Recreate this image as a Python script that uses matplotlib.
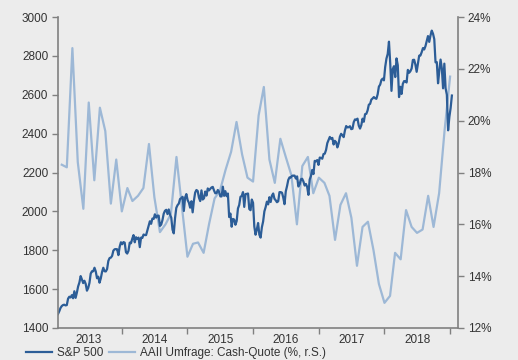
import matplotlib
matplotlib.use('Agg')
import matplotlib.pyplot as plt
import matplotlib.dates as mdates
import matplotlib.ticker as mticker
import pandas as pd

plt.rcParams['font.family'] = ['Liberation Sans', 'DejaVu Sans']

# S&P 500, Wochenschlusskurse ab 11.01.2013
spx = [
    # 2013
    1472, 1486, 1503, 1513, 1518, 1520, 1516, 1518, 1551, 1561, 1557, 1569, 1553,
    1589, 1555, 1582, 1614, 1634, 1667, 1650, 1631, 1643, 1627, 1592, 1606, 1632,
    1680, 1692, 1692, 1710, 1691, 1656, 1664, 1633, 1655, 1688, 1710, 1692, 1691,
    1703, 1745, 1760, 1762, 1771, 1798, 1805, 1806, 1805, 1775, 1818, 1841,
    # 2014
    1831, 1842, 1839, 1790, 1783, 1797, 1839, 1836, 1859, 1878, 1841, 1867, 1858,
    1865, 1816, 1865, 1863, 1881, 1878, 1878, 1901, 1924, 1949, 1936, 1963, 1961,
    1985, 1968, 1978, 1978, 1925, 1932, 1955, 1988, 2003, 2008, 1986, 2010, 1983,
    1968, 1906, 1887, 1965, 2018, 2032, 2040, 2064, 2068, 2075, 2002, 2071, 2089,
    # 2015
    2058, 2045, 2019, 2052, 1995, 2055, 2097, 2110, 2105, 2071, 2053, 2108, 2061,
    2067, 2102, 2081, 2118, 2108, 2116, 2123, 2126, 2107, 2093, 2094, 2110, 2101,
    2077, 2077, 2127, 2080, 2104, 2078, 2092, 1971, 1989, 1921, 1961, 1958, 1931,
    1951, 2015, 2033, 2075, 2079, 2099, 2023, 2089, 2090, 2092, 2012, 2006, 2061,
    2044,
    # 2016
    1922, 1880, 1907, 1940, 1880, 1865, 1918, 1948, 2000, 2022, 2050, 2036, 2073,
    2048, 2081, 2092, 2065, 2057, 2047, 2052, 2099, 2099, 2096, 2071, 2037, 2103,
    2130, 2162, 2175, 2174, 2183, 2184, 2184, 2169, 2180, 2128, 2139, 2165, 2168,
    2154, 2133, 2141, 2126, 2085, 2164, 2182, 2213, 2192, 2260, 2258, 2264, 2239,
    # 2017
    2277, 2275, 2271, 2295, 2297, 2316, 2351, 2367, 2383, 2373, 2378, 2344, 2363,
    2356, 2329, 2349, 2384, 2399, 2391, 2382, 2416, 2439, 2432, 2433, 2438, 2423,
    2425, 2459, 2473, 2472, 2477, 2441, 2426, 2443, 2477, 2461, 2500, 2502, 2519,
    2549, 2553, 2575, 2581, 2588, 2582, 2579, 2602, 2642, 2652, 2676, 2683, 2674,
    # 2018
    2743, 2786, 2810, 2873, 2762, 2620, 2732, 2747, 2691, 2787, 2752, 2588, 2641,
    2604, 2656, 2670, 2670, 2663, 2728, 2713, 2721, 2735, 2779, 2780, 2755, 2718,
    2760, 2801, 2802, 2819, 2840, 2833, 2850, 2875, 2902, 2872, 2905, 2930, 2914,
    2886, 2767, 2768, 2659, 2723, 2781, 2736, 2633, 2760, 2633, 2600, 2417, 2486,
    # 2019
    2532, 2596,
]
spx_dates = pd.date_range('2013-01-11', periods=len(spx), freq='W-FRI')

# AAII Umfrage: Cash-Quote in %, monatlich ab Feb 2013
cash = [
    18.3, 18.2, 22.8, 18.4, 16.6, 20.7, 17.7, 20.5, 19.6, 16.8, 18.5, 16.5,
    17.4, 16.9, 17.1, 17.4, 19.1, 17.05, 15.7, 16.0, 16.4, 18.6, 16.7, 14.75,
    15.25, 15.3, 14.9, 16.0, 17.0, 17.3, 18.1, 18.8, 19.95, 18.7, 17.8, 17.65,
    20.2, 21.3, 18.5, 17.6, 19.3, 18.6, 17.9, 16.0, 18.25, 18.6, 17.2, 17.8,
    17.6, 17.1, 15.4, 16.75, 17.2, 16.25, 14.4, 15.9, 16.1, 15.0, 13.7, 12.97,
    13.24, 14.9, 14.65, 16.55, 15.9, 15.67, 15.8, 17.1, 15.9, 17.2, 19.6, 21.7,
]
cash_dates = pd.date_range('2013-02-01', periods=len(cash), freq='MS')

bg = '#ececec'
dark = '#2c5d97'
light = '#9db8d6'
axis_col = '#808080'
txt = '#333333'
fs = 8.5

fig = plt.figure(figsize=(5.18, 3.6), dpi=100, facecolor=bg)
ax = fig.add_axes([58 / 518, 1 - 328 / 360, 400 / 518, 311 / 360])
ax2 = ax.twinx()
ax2.set_facecolor(bg)
ax.set_zorder(ax2.get_zorder() + 1)
ax.patch.set_visible(False)

ax2.plot(cash_dates, cash, color=light, lw=1.6, label='AAII Umfrage: Cash-Quote (%, r.S.)')
ax.plot(spx_dates, spx, color=dark, lw=1.6, label='S&P 500')

ax.set_xlim(pd.Timestamp('2013-01-11'), pd.Timestamp('2019-02-14'))
ax.set_ylim(1400, 3000)
ax.set_yticks(range(1400, 3001, 200))
ax2.set_ylim(12, 24)
ax2.set_yticks(range(12, 25, 2))
ax2.yaxis.set_major_formatter(mticker.FuncFormatter(lambda v, p: f'{v:.0f}%'))

# Jahresgrenzen als Striche, Jahreszahlen in der Mitte
ax.xaxis.set_major_locator(mdates.YearLocator())
ax.xaxis.set_major_formatter(mticker.NullFormatter())
ax.xaxis.set_minor_locator(mdates.MonthLocator(bymonth=7, bymonthday=2))
ax.xaxis.set_minor_formatter(mdates.DateFormatter('%Y'))
ax.tick_params(axis='x', which='minor', length=0, labelsize=fs, colors=txt, pad=4)
ax.tick_params(axis='x', which='major', length=4, color=axis_col, width=1)

for a in (ax, ax2):
    for s in a.spines.values():
        s.set_visible(False)
    a.tick_params(axis='y', length=4, color=axis_col, width=1, labelsize=fs, labelcolor=txt, pad=3)
ax.spines['left'].set_visible(True)
ax.spines['bottom'].set_visible(True)
ax2.spines['right'].set_visible(True)
for s in (ax.spines['left'], ax.spines['bottom'], ax2.spines['right']):
    s.set_color(axis_col)
    s.set_linewidth(1.2)

h1, l1 = ax.get_legend_handles_labels()
h2, l2 = ax2.get_legend_handles_labels()
fig.legend(h1 + h2, l1 + l2, loc='center left', bbox_to_anchor=(26 / 518, 1 - 353 / 360),
           ncol=2, frameon=False, fontsize=fs, handlelength=2.2, handletextpad=0.42,
           columnspacing=0.5, borderpad=0, borderaxespad=0, labelcolor=txt)

fig.savefig('out.png', dpi=100, facecolor=bg)
